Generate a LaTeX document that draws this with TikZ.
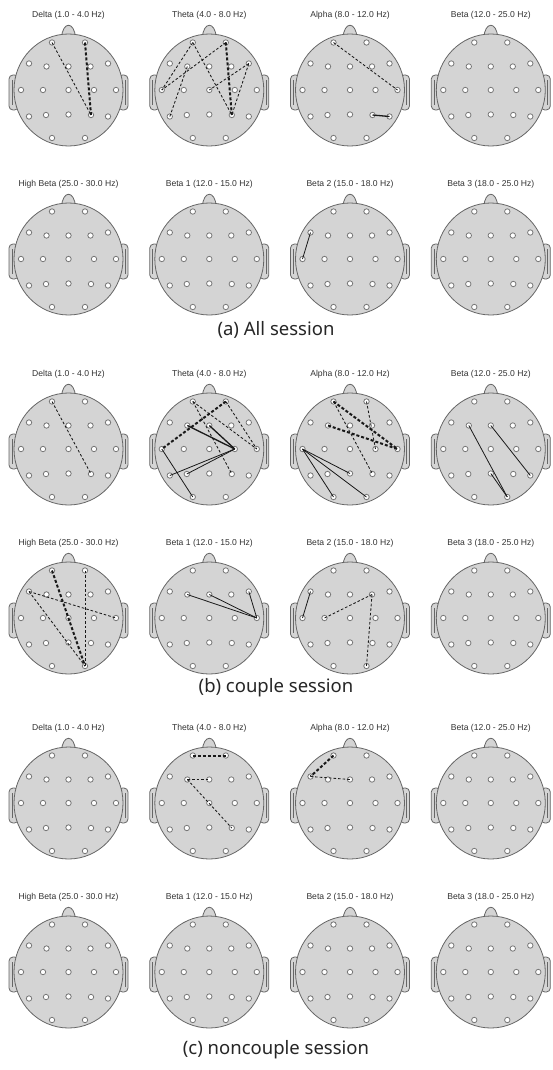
\documentclass[tikz,border=0pt]{standalone}
\usepackage{fontspec}
\newfontfamily\ttlfont{Liberation Sans}
\newfontfamily\capfont{Noto Sans}
\definecolor{headfill}{HTML}{D4D4D4}
\definecolor{headedge}{HTML}{666666}
\definecolor{elecedge}{HTML}{777777}
\definecolor{ttlcol}{HTML}{333333}
\tikzset{
  headstyle/.style={draw=headedge, fill=headfill, line width=0.8pt},
  elec/.style={circle, draw=elecedge, fill=white, line width=0.8pt, minimum size=5.4pt, inner sep=0pt},
  ttl/.style={font=\ttlfont\fontsize{8.6}{10}\selectfont, text=ttlcol, inner sep=0pt},
  capt/.style={font=\capfont\fontsize{18.5}{22}\selectfont, text=black!85, inner sep=0pt},
  thindash/.style={line width=0.85pt, dash pattern=on 2.6pt off 2pt, black!90},
  thickdash/.style={line width=2pt, dash pattern=on 3pt off 2pt, black!90},
  thinsolid/.style={line width=0.8pt, black!90},
  thicksolid/.style={line width=1.3pt, black!90},
}
\newcommand\drawhead[4]{%
  \begin{scope}[shift={(#2,#3)}]
    \filldraw[headstyle, rounded corners=4pt] (-50,-15) rectangle (-59.5,20);
    \filldraw[headstyle, rounded corners=4pt] (50,-15) rectangle (59.5,20);
    \draw[headedge, line width=0.5pt] (-56.6,-10) -- (-56.6,15);
    \draw[headedge, line width=0.5pt] (56.6,-10) -- (56.6,15);
    \filldraw[headstyle] (-7,-52) .. controls (-6,-69) and (6,-69) .. (7,-52);
    \filldraw[headstyle] (0,0) ellipse [x radius=54.5, y radius=56];
    \node[ttl] (#1-t) at (0,-75) {#4};
    \foreach \n/\x/\y in {Fp1/-16.5/-47.5, Fp2/16.5/-47.5, F7/-39.5/-26.5, F3/-22/-23.5, Fz/0/-23.5, F4/22/-23.5, F8/39.5/-26.5, T3/-47.5/0, C3/-25.5/0, Cz/0/0, C4/25.5/0, T4/47.5/0, T5/-39.5/26.5, P3/-22.5/25, Pz/0/24.5, P4/22.5/25, T6/39.5/26.5, O1/-16.5/48, O2/16.5/48}
      \node[elec] (#1-\n) at (\x,\y) {};
  \end{scope}}
\newcommand\lk[4]{\draw[#1] (#2-#3.center) -- (#2-#4.center);}
\begin{document}
\begin{tikzpicture}[x=1pt, y=-1pt]
\useasboundingbox[fill=white] (0,0) rectangle (552,1070);
% (a)
\drawhead{a1}{68.5}{90}{Delta (1.0 - 4.0 Hz)}
\drawhead{a2}{209.3}{90}{Theta (4.0 - 8.0 Hz)}
\drawhead{a3}{350}{90}{Alpha (8.0 - 12.0 Hz)}
\drawhead{a4}{490.8}{90}{Beta (12.0 - 25.0 Hz)}
\drawhead{a5}{68.5}{259}{High Beta (25.0 - 30.0 Hz)}
\drawhead{a6}{209.3}{259}{Beta 1 (12.0 - 15.0 Hz)}
\drawhead{a7}{350}{259}{Beta 2 (15.0 - 18.0 Hz)}
\drawhead{a8}{490.8}{259}{Beta 3 (18.0 - 25.0 Hz)}
\node[capt] (capa) at (276,330) {(a) All session};
% (b)
\drawhead{b1}{68.5}{449}{Delta (1.0 - 4.0 Hz)}
\drawhead{b2}{209.3}{449}{Theta (4.0 - 8.0 Hz)}
\drawhead{b3}{350}{449}{Alpha (8.0 - 12.0 Hz)}
\drawhead{b4}{490.8}{449}{Beta (12.0 - 25.0 Hz)}
\drawhead{b5}{68.5}{618}{High Beta (25.0 - 30.0 Hz)}
\drawhead{b6}{209.3}{618}{Beta 1 (12.0 - 15.0 Hz)}
\drawhead{b7}{350}{618}{Beta 2 (15.0 - 18.0 Hz)}
\drawhead{b8}{490.8}{618}{Beta 3 (18.0 - 25.0 Hz)}
\node[capt] (capb) at (276,688) {(b) couple session};
% (c)
\drawhead{c1}{68.5}{803}{Delta (1.0 - 4.0 Hz)}
\drawhead{c2}{209.3}{803}{Theta (4.0 - 8.0 Hz)}
\drawhead{c3}{350}{803}{Alpha (8.0 - 12.0 Hz)}
\drawhead{c4}{490.8}{803}{Beta (12.0 - 25.0 Hz)}
\drawhead{c5}{68.5}{972}{High Beta (25.0 - 30.0 Hz)}
\drawhead{c6}{209.3}{972}{Beta 1 (12.0 - 15.0 Hz)}
\drawhead{c7}{350}{972}{Beta 2 (15.0 - 18.0 Hz)}
\drawhead{c8}{490.8}{972}{Beta 3 (18.0 - 25.0 Hz)}
\node[capt] (capc) at (276,1050) {(c) noncouple session};
% connections (a)
\lk{thindash}{a1}{Fp1}{P4}
\lk{thickdash}{a1}{Fp2}{P4}
\lk{thindash}{a2}{Fp1}{T3}
\lk{thindash}{a2}{Fp1}{P4}
\lk{thindash}{a2}{Fp2}{T3}
\lk{thickdash}{a2}{Fp2}{P4}
\lk{thindash}{a2}{T5}{F3}
\lk{thindash}{a2}{F8}{Cz}
\lk{thindash}{a2}{F8}{P4}
\lk{thindash}{a3}{Fp1}{T4}
\lk{thicksolid}{a3}{P4}{T6}
\lk{thinsolid}{a7}{F7}{T3}
% connections (b)
\lk{thindash}{b1}{Fp1}{P4}
\lk{thickdash}{b2}{Fp2}{T3}
\lk{thindash}{b2}{Fp1}{T4}
\lk{thindash}{b2}{Fp2}{T4}
\lk{thindash}{b2}{Fp1}{P4}
\lk{thicksolid}{b2}{F3}{C4}
\lk{thicksolid}{b2}{Fz}{C4}
\lk{thinsolid}{b2}{T5}{C4}
\lk{thinsolid}{b2}{P3}{C4}
\lk{thinsolid}{b2}{T3}{O1}
\lk{thickdash}{b3}{Fp1}{T4}
\lk{thickdash}{b3}{F3}{T4}
\lk{thindash}{b3}{Fp1}{P4}
\lk{thindash}{b3}{Fp2}{C4}
\lk{thinsolid}{b3}{T3}{Pz}
\lk{thinsolid}{b3}{T3}{O1}
\lk{thinsolid}{b3}{T3}{O2}
\lk{thinsolid}{b4}{F3}{O2}
\lk{thinsolid}{b4}{Fz}{T6}
\lk{thinsolid}{b4}{Pz}{O2}
\lk{thickdash}{b5}{Fp1}{O2}
\lk{thindash}{b5}{Fp2}{O2}
\lk{thindash}{b5}{F7}{T4}
\lk{thindash}{b5}{F7}{O2}
\lk{thinsolid}{b6}{F3}{T4}
\lk{thinsolid}{b6}{Fz}{T4}
\lk{thinsolid}{b6}{F8}{T4}
\lk{thinsolid}{b7}{F7}{T3}
\lk{thindash}{b7}{C3}{F4}
\lk{thindash}{b7}{F4}{O2}
% connections (c)
\lk{thickdash}{c2}{Fp1}{Fp2}
\lk{thindash}{c2}{F3}{Fz}
\lk{thindash}{c2}{F3}{P4}
\lk{thickdash}{c3}{Fp1}{F7}
\lk{thindash}{c3}{F7}{Fz}
\end{tikzpicture}
\end{document}
